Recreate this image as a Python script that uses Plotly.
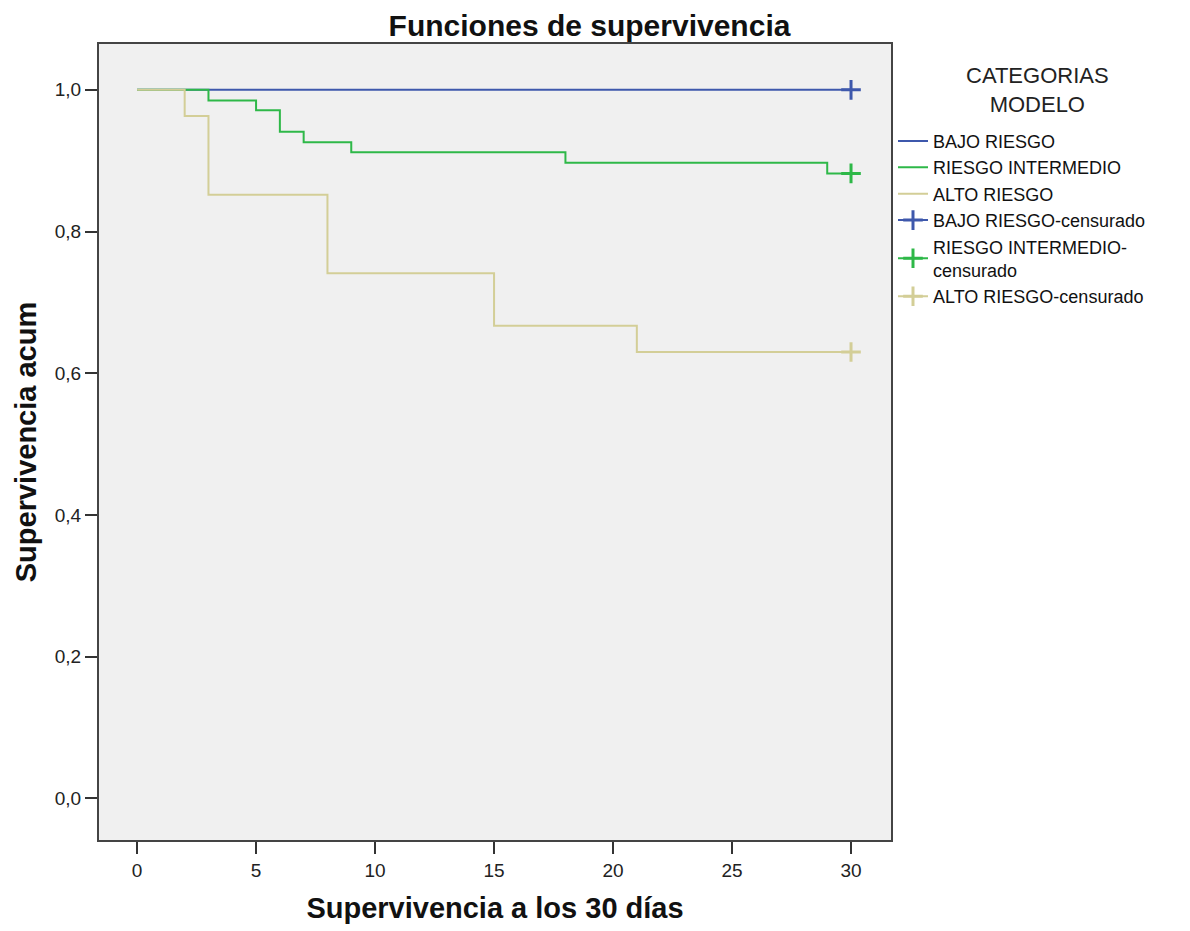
import plotly.graph_objects as go

# Data
times_bajo = [0, 30]
surv_bajo = [1.0, 1.0]
times_inter = [0, 3, 5, 6, 7, 9, 18, 29, 30]
surv_inter = [1.0, 0.985, 0.971, 0.941, 0.926, 0.912, 0.897, 0.882, 0.882]
times_alto = [0, 2, 3, 8, 15, 21, 30]
surv_alto = [1.0, 0.963, 0.852, 0.741, 0.667, 0.630, 0.630]

cens_bajo_t, cens_bajo_s = [30], [1.0]
cens_inter_t, cens_inter_s = [30], [0.882]
cens_alto_t, cens_alto_s = [30], [0.630]

x_ticks = [0, 5, 10, 15, 20, 25, 30]
y_ticks = [0, 0.2, 0.4, 0.6, 0.8, 1.0]

names = ["BAJO RIESGO", "RIESGO INTERMEDIO", "ALTO RIESGO"]
cens_names = ["BAJO RIESGO-censurado", "RIESGO INTERMEDIO-<br>censurado", "ALTO RIESGO-censurado"]
colors = ["#3E58AC", "#2EB848", "#D3CE97"]

fig = go.Figure()
for t, s, n, c in zip([times_bajo, times_inter, times_alto],
                      [surv_bajo, surv_inter, surv_alto], names, colors):
    fig.add_trace(go.Scatter(x=t, y=s, mode="lines", name=n,
                             line=dict(color=c, width=2, shape="hv")))
for t, s, n, c in zip([cens_bajo_t, cens_inter_t, cens_alto_t],
                      [cens_bajo_s, cens_inter_s, cens_alto_s], cens_names, colors):
    fig.add_trace(go.Scatter(x=t, y=s, mode="lines+markers", name=n,
                             line=dict(color=c, width=2),
                             marker=dict(symbol="cross-thin", size=14,
                                         line=dict(color=c, width=3), color=c)))

base = "Liberation Sans, Arial"
fig.update_layout(
    width=1190, height=931,
    margin=dict(l=99, r=299, t=44, b=88),
    paper_bgcolor="white",
    plot_bgcolor="#F0F0F0",
    separators=",.",
    title=dict(text="<b>Funciones de supervivencia</b>", x=(383 + 796) / 2 / 1190, xanchor="center",
               y=1 - 25 / 931, yanchor="middle",
               font=dict(family=base, size=30, color="#111")),
    showlegend=True,
    legend=dict(x=1.0 + 2 / 792, xref="paper", xanchor="left", y=1 - (123 - 44) / 799, yanchor="top",
                bgcolor="rgba(0,0,0,0)",
                font=dict(family=base, size=18, color="#111"),
                itemwidth=30, tracegroupgap=0),
    annotations=[dict(text="CATEGORIAS<br>MODELO", xref="paper", yref="paper",
                      x=(1037 - 99) / 792, y=1 - (90 - 44) / 799,
                      xanchor="center", yanchor="middle", showarrow=False, align="center",
                      font=dict(family=base, size=22, color="#222"))],
    xaxis=dict(range=[-1.6, 31.68], tickvals=x_ticks,
               showgrid=False, zeroline=False, showline=True, mirror=True,
               linecolor="#444", linewidth=2, ticks="outside", ticklen=12,
               tickcolor="#333", tickwidth=1.5,
               tickfont=dict(family=base, size=19, color="#222"),
               title=dict(text="<b>Supervivencia a los 30 días</b>", standoff=18,
                          font=dict(family=base, size=29, color="#111"))),
    yaxis=dict(range=[-0.059, 1.0647], tickvals=y_ticks, tickformat=".1f",
               showgrid=False, zeroline=False, showline=True, mirror=True,
               linecolor="#444", linewidth=2, ticks="outside", ticklen=12,
               tickcolor="#333", tickwidth=1.5,
               tickfont=dict(family=base, size=19, color="#222"),
               title=dict(text="<b>Supervivencia acum</b>", standoff=10,
                          font=dict(family=base, size=29, color="#111"))),
)

fig.write_html("out.html")
